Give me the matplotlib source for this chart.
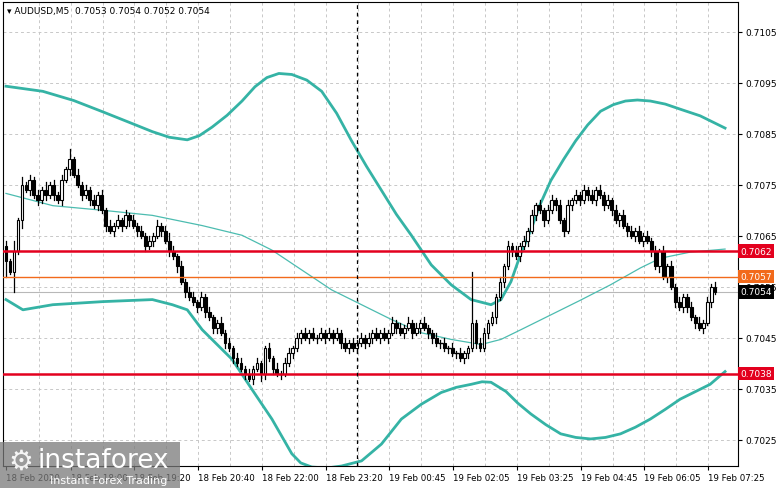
import matplotlib
matplotlib.use("Agg")
import matplotlib.pyplot as plt
from matplotlib.patches import Rectangle

# close prices per M5 bar (open = previous close)
closes = [
    0.7060, 0.7058, 0.7062, 0.7068, 0.7075,
    0.7074, 0.7076, 0.7073, 0.7072, 0.7074, 0.7073, 0.7075, 0.7073, 0.7072, 0.7076, 0.7078,
    0.7080, 0.7077,
    0.7075, 0.7073, 0.7074, 0.7072, 0.7071, 0.7073, 0.7070,
    0.7067, 0.7066, 0.7067,
    0.7068, 0.7067, 0.7069, 0.7068, 0.7067, 0.7066, 0.7065,
    0.7063, 0.7064, 0.7065, 0.7067, 0.7066, 0.7064,
    0.7062, 0.7061, 0.7059,
    0.7056, 0.7054, 0.7053,
    0.7052, 0.7051, 0.7053, 0.7050, 0.7049, 0.7047,
    0.7048, 0.7046, 0.7044, 0.7043, 0.7041, 0.7040,
    0.7039, 0.7038, 0.7037, 0.7039, 0.7040, 0.7038,
    0.7043, 0.7041, 0.7039, 0.7038, 0.7038, 0.7040,
    0.7042, 0.7043, 0.7045, 0.7046,
    0.7045, 0.7046, 0.7045, 0.7045, 0.7046, 0.7045, 0.7046, 0.7045, 0.7046, 0.7044, 0.7043,
    0.7044, 0.7043, 0.7044, 0.7045, 0.7044, 0.7045, 0.7046, 0.7045, 0.7046, 0.7045, 0.7046,
    0.7048, 0.7047, 0.7046, 0.7047, 0.7048, 0.7046, 0.7047, 0.7048, 0.7047, 0.7046,
    0.7045, 0.7044, 0.7044, 0.7043, 0.7043, 0.7042, 0.7042, 0.7041, 0.7042,
    0.7043, 0.7048, 0.7044, 0.7043,
    0.7046, 0.7048, 0.7049, 0.7053, 0.7056, 0.7059,
    0.7063, 0.7062, 0.7061, 0.7063, 0.7064,
    0.7066, 0.7069, 0.7071, 0.7070, 0.7068, 0.7070,
    0.7072, 0.7071, 0.7068, 0.7066, 0.7071, 0.7072,
    0.7073, 0.7072, 0.7074, 0.7073, 0.7072, 0.7074, 0.7073, 0.7071,
    0.7072, 0.7070, 0.7068, 0.7069, 0.7067, 0.7066, 0.7065,
    0.7066, 0.7064, 0.7065, 0.7064, 0.7062,
    0.7059, 0.7062, 0.7057, 0.7059,
    0.7055, 0.7052, 0.7051, 0.7053,
    0.7051, 0.7049, 0.7048, 0.7047, 0.7048,
    0.7052, 0.7055, 0.7054,
]
first_open = 0.7063
# wick lengths in half-pips (upper / lower), one digit per bar
wick_hi = ("21413" "12121312121" "41" "2121212" "121" "2121212" "121212" "121" "212"
           "212121" "121212" "212121" "121212" "2121" "2121212121212121212121"
           "2121212121" "121212121" "1212" "212121" "21212" "121212" "212121"
           "21212121" "2121212" "12121" "2121" "2121" "12121" "212")
wick_lo = ("31213" "12121212121" "21" "1212121" "212" "1212121" "212121" "212" "121"
           "121212" "212121" "121212" "212121" "1212" "1212121212121212121212"
           "1212121212" "212121212" "2121" "121212" "12121" "212121" "121212"
           "12121212" "1212121" "21212" "1212" "1212" "21212" "121")
long_wicks_hi = {16: 4, 117: 20, 41: 3}
long_wicks_lo = {0: 6, 2: 8, 64: 3}

# Bollinger bands, read as knots along the curves
x_upper = [0, 9.25, 17, 24.25, 31, 36.75, 41, 45.5, 48.5, 51.75, 55.5, 59.25, 62.5, 65.5, 68.5, 71.75,
           75.5, 79.25, 83, 86.75, 90.5, 94.25, 98, 101.75, 106.75, 111.75, 116.75, 121.75, 124.25,
           126.75, 129, 131.75, 134, 136.75, 140, 143, 146, 149.25, 152.5, 155.5, 158.5, 161.75,
           165.5, 169.25, 174.25, 180.5]
upper = [0.70943, 0.70933, 0.70915, 0.70893, 0.70872, 0.70854, 0.70843, 0.70838, 0.70846, 0.70863,
         0.70886, 0.70914, 0.70942, 0.70960, 0.70968, 0.70966, 0.70955, 0.70933, 0.70890, 0.70836,
         0.70786, 0.70739, 0.70692, 0.70651, 0.70593, 0.70554, 0.70525, 0.70515, 0.70525, 0.70560,
         0.70610, 0.70661, 0.70710, 0.70758, 0.70800, 0.70836, 0.70867, 0.70894, 0.70907, 0.70914,
         0.70916, 0.70914, 0.70908, 0.70898, 0.70885, 0.70861]
x_mid = [0, 11.75, 24.25, 36.75, 49.25, 59.25, 66.75, 74.25, 81.75, 89.25, 96.75, 104.25, 111.75,
         119.25, 124.25, 129.25, 136.75, 144.25, 151.75, 159.25, 164.25, 171.75, 180.5]
mid = [0.70733, 0.70709, 0.70700, 0.70690, 0.70670, 0.70651, 0.70622, 0.70583, 0.70544, 0.70515,
       0.70486, 0.70460, 0.70447, 0.70437, 0.70447, 0.70466, 0.70495, 0.70524, 0.70554, 0.70587,
       0.70606, 0.70618, 0.70624]
x_lower = [0, 4.25, 11.75, 24.25, 36.75, 41.75, 45.5, 49.25, 53, 56.75, 61.75, 66.75, 71.75, 74,
           76.75, 80.5, 84.25, 89.25, 94.25, 99.25, 104.25, 109.25, 113, 116.75, 119.5, 121.75, 125.5,
           128.5, 131.75, 135.5, 139.25, 143, 146.75, 150.5, 154.25, 158, 161.75, 165.5, 169.25,
           176.75, 180.5]
lower = [0.70525, 0.70505, 0.70515, 0.70521, 0.70525, 0.70515, 0.70505, 0.70466, 0.70437, 0.70408,
         0.70349, 0.70291, 0.70223, 0.70205, 0.70197, 0.70195, 0.70199, 0.70209, 0.70242, 0.70291,
         0.70320, 0.70343, 0.70353, 0.70359, 0.70364, 0.70363, 0.70345, 0.70322, 0.70301, 0.70280,
         0.70262, 0.70255, 0.70252, 0.70255, 0.70262, 0.70275, 0.70291, 0.70310, 0.70330, 0.70359,
         0.70384]

yticks = [0.7105, 0.7095, 0.7085, 0.7075, 0.7065, 0.7055, 0.7045, 0.7035, 0.7025]
xtick_pos = [0, 16.25, 32.25, 48.25, 64.25, 80.25, 96.25, 112.25, 128.25, 144.25, 160.25, 176.25]
xtick_labels = ["18 Feb 2020", "18 Feb 18:00", "18 Feb 19:20", "18 Feb 20:40", "18 Feb 22:00",
                "18 Feb 23:20", "19 Feb 00:45", "19 Feb 02:05", "19 Feb 03:25", "19 Feb 04:45",
                "19 Feb 06:05", "19 Feb 07:25"]
levels_red = [0.7062, 0.7038]
level_orange = 0.7057
last_price = 0.7054
cursor_bar = 88

fig = plt.figure(figsize=(7.81, 4.89), dpi=100)
ax = fig.add_axes([3 / 781, 1 - 467 / 489, 735 / 781, 464 / 489])
ax.set_xlim(-0.75, 183.75)
ax.set_ylim(0.70199, 0.71108)

for x in range(0, 184, 8):
    ax.axvline(x + 8.25, color="#c8c8c8", lw=0.7, ls=(0, (3, 3)), zorder=0)
for p in yticks:
    ax.axhline(p, color="#c8c8c8", lw=0.7, ls=(0, (3, 3)), zorder=0)

pip = 0.00005
prev = first_open
for i, c in enumerate(closes):
    o = prev
    hi = max(o, c) + long_wicks_hi.get(i, int(wick_hi[i])) * pip
    lo = min(o, c) - long_wicks_lo.get(i, int(wick_lo[i])) * pip
    ax.plot([i, i], [lo, hi], color="black", lw=0.9, zorder=3)
    h = abs(c - o)
    if h < 0.00002:
        ax.plot([i - 0.35, i + 0.35], [c, c], color="black", lw=1, zorder=4)
    else:
        ax.add_patch(Rectangle((i - 0.35, min(o, c)), 0.7, h, facecolor="white" if c > o else "black",
                               edgecolor="black", lw=0.8, zorder=4))
    prev = c

band = "#35b3a5"
ax.plot(x_upper, upper, color=band, lw=2, zorder=2, solid_joinstyle="round")
ax.plot(x_lower, lower, color=band, lw=2, zorder=2, solid_joinstyle="round")
ax.plot(x_mid, mid, color="#4cbcb0", lw=0.9, zorder=2)

for p in levels_red:
    ax.axhline(p, color="#e3001e", lw=1.8, zorder=5)
ax.axhline(level_orange, color="#f26a1b", lw=1, zorder=5)
ax.axhline(last_price, color="#b8b8b8", lw=0.8, zorder=1)
ax.axvline(cursor_bar, color="black", lw=0.9, ls=(0, (3, 3)), zorder=5)

ax.yaxis.tick_right()
ax.set_yticks(yticks)
ax.set_yticklabels([f"{p:.4f}" for p in yticks], fontsize=6.5)
ax.set_xticks(xtick_pos)
ax.set_xticklabels(xtick_labels, fontsize=6.2, ha="left")
ax.tick_params(axis="both", length=3, width=0.8, pad=2, direction="out")
for s in ax.spines.values():
    s.set_linewidth(0.8)

def price_box(p, text, color):
    ax.text(1.003, p, text, transform=ax.get_yaxis_transform(), fontsize=6.5, color="white",
            va="center", ha="left", zorder=10,
            bbox=dict(boxstyle="square,pad=0.25", facecolor=color, edgecolor="none"))

for p in levels_red:
    price_box(p, f"{p:.4f}", "#e3001e")
price_box(level_orange, f"{level_orange:.4f}", "#f26a1b")
price_box(last_price, f"{last_price:.4f}", "black")

ax.text(0.005, 0.992, "▾ AUDUSD,M5  0.7053 0.7054 0.7052 0.7054", transform=ax.transAxes,
        fontsize=6.5, va="top", ha="left", zorder=10)

# watermark
fig.patches.append(Rectangle((0, 0), 180 / 781, 46 / 489, transform=fig.transFigure,
                             facecolor="#7a7a7a", alpha=0.75, edgecolor="none", zorder=20))
fig.text(8 / 781, 27 / 489, "⚙", fontsize=20, color="white", va="center", alpha=0.9, zorder=21)
fig.text(38 / 781, 28 / 489, "instaforex", fontsize=19, color="white", va="center", zorder=21)
fig.text(50 / 781, 8 / 489, "Instant Forex Trading", fontsize=8, color="white", va="center", zorder=21)

fig.savefig("out.png", dpi=100)
